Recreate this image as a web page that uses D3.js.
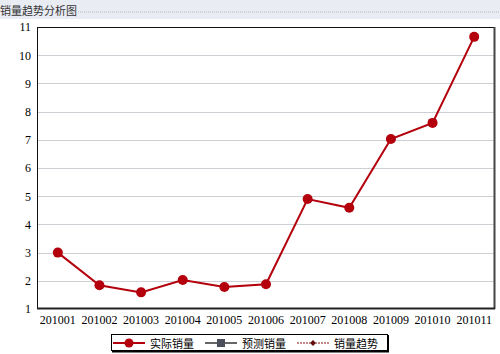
<!DOCTYPE html>
<html>
<head>
<meta charset="utf-8">
<script src="https://cdn.jsdelivr.net/npm/d3@7"></script>
<style>
  body { margin: 0; background: #fff; }
  svg { display: block; }
</style>
</head>
<body>
<div class="chart"></div>
<script>
// data
const months = ['201001', '201002', '201003', '201004', '201005', '201006',
  '201007', '201008', '201009', '201010', '201011'];
const actual = [3.0, 1.84, 1.59, 2.03, 1.78, 1.88, 4.9, 4.59, 7.03, 7.6, 10.65];
const yTicks = [1, 2, 3, 4, 5, 6, 7, 8, 9, 10, 11];
const legendNames = ['实际销量', '预测销量', '销量趋势'];

const W = 500, H = 354;
const margin = { top: 27, right: 5, bottom: 45, left: 37 };
const width = W - margin.left - margin.right,
  height = H - margin.top - margin.bottom;

const svg = d3.select('.chart').append('svg')
  .attr('width', W)
  .attr('height', H);

// title band
svg.append('rect')
  .attr('width', W).attr('height', 19)
  .attr('fill', '#e9ecf3');
svg.append('line')
  .attr('x1', 78).attr('x2', W)
  .attr('y1', 12).attr('y2', 12)
  .attr('stroke', '#b8b8b8')
  .attr('stroke-dasharray', '1,1');
svg.append('text')
  .attr('x', 0).attr('y', 15)
  .style('font-family', '"Noto Sans CJK SC", sans-serif')
  .style('font-size', '11px')
  .attr('fill', '#333')
  .text('销量趋势分析图');

const g = svg.append('g')
  .attr('transform', `translate(${margin.left},${margin.top})`);

// scales
const x = d3.scaleBand().domain(months).range([0, width]);
const y = d3.scaleLinear().domain([1, 11]).range([height, 0]);

// gridlines
g.append('g')
  .selectAll('line')
  .data(yTicks.slice(1, -1))
  .join('line')
  .attr('x1', 1).attr('x2', width)
  .attr('y1', d => Math.round(y(d)) + 0.5)
  .attr('y2', d => Math.round(y(d)) + 0.5)
  .attr('stroke', '#cfcfd6');

// plot frame, darker shadow on right and bottom
g.append('rect')
  .attr('x', 0.5).attr('y', 0.5)
  .attr('width', width - 1).attr('height', height - 1)
  .attr('fill', 'none')
  .attr('stroke', '#111');
g.append('line')
  .attr('x1', width - 0.5).attr('x2', width - 0.5)
  .attr('y1', 0).attr('y2', height)
  .attr('stroke', '#444').attr('stroke-width', 2);
g.append('line')
  .attr('x1', 0).attr('x2', width)
  .attr('y1', height - 0.5).attr('y2', height - 0.5)
  .attr('stroke', '#222').attr('stroke-width', 2);

// axes
const yAxis = g.append('g')
  .call(d3.axisLeft(y).tickValues(yTicks).tickSize(0).tickPadding(6));
yAxis.select('.domain').remove();
yAxis.selectAll('text')
  .style('font-family', '"Liberation Serif", serif')
  .style('font-size', '12px')
  .attr('fill', '#000');

const xAxis = g.append('g')
  .attr('transform', `translate(0,${height})`)
  .call(d3.axisBottom(x).tickSize(0).tickPadding(6));
xAxis.select('.domain').remove();
xAxis.selectAll('text')
  .style('font-family', '"Liberation Serif", serif')
  .style('font-size', '12px')
  .attr('fill', '#000');

// line + points
const cx = d => x(d) + x.bandwidth() / 2;
const line = d3.line()
  .x((d, i) => cx(months[i]))
  .y(d => y(d));

g.append('path')
  .datum(actual)
  .attr('fill', 'none')
  .attr('stroke', '#b3000c')
  .attr('stroke-width', 2)
  .attr('d', line);

g.selectAll('.pt')
  .data(actual)
  .join('circle')
  .attr('class', 'pt')
  .attr('cx', (d, i) => cx(months[i]))
  .attr('cy', d => y(d))
  .attr('r', 5)
  .attr('fill', '#b3000c');

// legend
const lg = svg.append('g').attr('transform', 'translate(111,334)');
lg.append('rect')
  .attr('x', 0.5).attr('y', 0.5)
  .attr('width', 276).attr('height', 16)
  .attr('fill', '#fff')
  .attr('stroke', '#000');
lg.append('line')
  .attr('x1', 277).attr('x2', 277).attr('y1', 1).attr('y2', 18)
  .attr('stroke', '#000').attr('stroke-width', 2);
lg.append('line')
  .attr('x1', 1).attr('x2', 278).attr('y1', 17.5).attr('y2', 17.5)
  .attr('stroke', '#000').attr('stroke-width', 2);

const items = lg.selectAll('.item')
  .data(legendNames)
  .join('g')
  .attr('class', 'item')
  .attr('transform', (d, i) => `translate(${2 + i * 92},9)`);

items.append('line')
  .attr('x1', 0).attr('x2', 32)
  .attr('stroke', (d, i) => ['#b3000c', '#333', '#8b1010'][i])
  .attr('stroke-width', (d, i) => [2, 1.5, 1][i])
  .attr('stroke-dasharray', (d, i) => i === 2 ? '2,1' : null);
items.filter((d, i) => i === 0).append('circle')
  .attr('cx', 16).attr('r', 4.5).attr('fill', '#b3000c');
items.filter((d, i) => i === 1).append('rect')
  .attr('x', 12).attr('y', -4).attr('width', 8).attr('height', 8)
  .attr('fill', '#4b4f5c');
items.filter((d, i) => i === 2).append('path')
  .attr('transform', 'translate(16,0)')
  .attr('d', 'M0,-3L3,0L0,3L-3,0Z')
  .attr('fill', '#6b0a0a').attr('stroke', '#999').attr('stroke-width', 0.5);

items.append('text')
  .attr('x', 37).attr('y', 4.5)
  .style('font-family', '"Noto Sans CJK SC", sans-serif')
  .style('font-size', '11px')
  .attr('fill', '#000')
  .text(d => d);
</script>
</body>
</html>
